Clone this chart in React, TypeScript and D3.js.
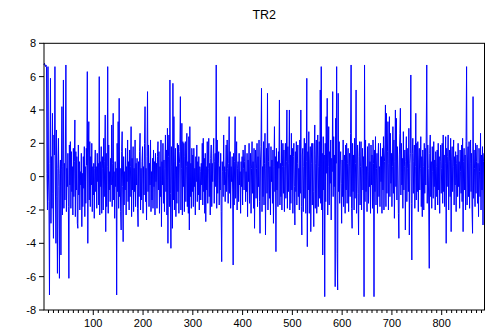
import React from "react";
import * as d3 from "d3";

const title = "TR2";
const yTicks = [-8, -6, -4, -2, 0, 2, 4, 6, 8];
const xMajorTicks = [100, 200, 300, 400, 500, 600, 700, 800];
const xDomain = [1, 886];
const yDomain = [-8, 8];

const tr2 = [
  6.7, 6.8, 6.7, 6.6, 6.7, 6.6, 0.2, -2.0, 6.6, 0.1,
  -1.5, -7.1, 0.8, 5.9, -2.8, 1.2, -1.9, 3.8, -1.0, -3.7,
  2.5, 1.3, 6.6, -0.8, -4.0, 2.8, -1.2, -5.8, 0.5, 2.3,
  -0.6, -6.1, 0.2, 1.0, -4.7, 0.4, 4.2, -2.3, 0.6, 5.8,
  -1.9, 0.8, -1.4, 1.6, 6.7, -2.1, 0.5, -0.6, 1.4, -1.8,
  -6.1, 1.9, -0.5, 2.1, -1.9, 1.5, -0.9, 0.6, -2.3, 1.7,
  -1.2, 0.9, 3.4, -2.4, 1.5, -0.8, 1.2, -2.8, -3.1, 1.9,
  -1.1, 0.9, -2.0, 0.3, -0.5, 1.4, -3.0, 0.2, -1.8, 1.2,
  -0.7, 1.8, -2.4, 0.6, -1.6, 1.7, 0.7, 6.3, -4.0, 1.3,
  3.3, -1.4, 2.1, -1.8, 1.2, -0.5, 2.0, -2.1, 0.6, -1.1,
  0.8, -2.5, 0.5, 1.6, -0.9, 0.6, -1.9, 1.4, -0.3, 0.8,
  -1.7, 6.0, -2.3, 0.9, -0.6, 1.8, -2.2, 0.5, 1.2, -2.0,
  2.3, -1.2, 0.9, 3.7, -3.3, 1.4, -1.8, 0.6, 6.6, -2.2,
  1.9, -0.8, 0.3, -1.5, 1.1, -0.5, 3.1, -1.8, 0.8, 3.8,
  -1.4, 0.3, -2.5, 0.9, -0.6, 0.5, -7.1, 2.0, -0.9, 3.3,
  -1.9, 4.7, -1.2, 0.5, -2.1, -3.2, 1.5, 2.7, -0.6, -3.9,
  1.2, -1.7, 0.3, -0.8, 1.7, -2.3, 0.6, -0.3, 2.2, -1.5,
  0.9, -2.0, 1.6, -1.2, 0.6, 3.0, -2.4, 1.1, -0.8, 1.8,
  -2.1, 0.5, -0.9, 2.2, -1.8, 0.8, -0.5, 1.1, -1.9, -3.0,
  0.9, -1.2, 1.5, 2.6, -2.0, 0.5, -1.4, 0.9, 1.8, -2.2,
  0.6, -1.1, 2.0, 4.2, -1.5, 0.5, -2.6, 1.2, 5.1, -0.9,
  1.9, -1.8, 0.8, -0.5, 2.2, -2.1, 0.3, -1.4, 1.1, -1.9,
  1.6, -0.6, 0.9, -2.3, 1.4, -0.3, 0.8, -1.9, 1.2, 2.1,
  -0.8, 1.5, -2.2, 0.6, -1.2, 2.2, -3.0, 0.9, -0.5, 2.0,
  -1.6, 1.0, -2.1, 0.5, 2.5, -0.9, 1.6, -2.3, 2.9, -4.0,
  1.2, 2.5, -1.8, 5.8, -1.0, -4.3, 1.8, 0.6, -3.1, 5.6,
  -1.4, 3.6, -2.0, 0.9, 1.7, -2.4, 0.6, -1.6, 2.0, -0.9,
  1.9, -2.2, 0.8, 1.5, 4.8, -2.0, 0.5, 3.2, -2.3, 2.1,
  -0.6, 2.0, -2.1, 1.2, 2.1, -1.5, 0.6, 2.6, -1.8, 0.9,
  -2.2, 2.4, -3.2, 3.0, -1.2, 0.8, -1.9, 1.7, -0.9, 1.3,
  -1.8, 1.7, -0.6, 0.5, -2.3, 1.2, -0.3, 1.9, -1.5, 0.9,
  -1.1, 1.2, -2.0, 0.6, 0.3, -1.4, 0.8, -0.5, 2.0, -1.7,
  2.3, -0.9, 1.1, -2.2, 1.4, -2.7, 0.6, -0.8, 2.1, -1.6,
  0.5, 2.3, -1.2, 0.8, -2.3, 1.1, 1.9, -1.8, 0.8, -0.3,
  1.4, 2.3, -1.6, 0.9, 1.4, -0.6, 6.7, -1.9, 2.2, -1.0,
  0.8, 1.5, -1.7, 0.6, -0.8, 1.4, -2.1, -5.1, 0.9, 0.3,
  -1.2, 2.5, -0.5, 0.6, -1.5, 0.3, 1.9, -0.9, 2.2, 0.5,
  -1.6, 0.8, 3.6, -1.0, 1.5, -1.9, 0.6, -0.3, 1.2, -0.8,
  -5.3, 1.4, -1.7, 0.9, 3.6, -1.3, 0.8, 2.1, -2.0, 0.5,
  0.9, -1.5, 1.4, -0.5, 0.3, -2.2, 0.9, -0.6, 1.2, -1.7,
  1.6, 0.5, -0.8, 0.9, 1.9, -1.5, 0.3, -0.9, 1.4, -2.4,
  1.0, -0.3, 2.0, -1.6, 0.6, 1.4, -2.2, 0.5, 2.1, -1.0,
  0.9, -1.9, 1.7, -3.1, 0.8, 1.6, -1.3, 0.5, 2.0, -1.8,
  1.2, -0.6, 2.2, -1.5, -3.4, 1.0, 1.8, 5.3, -2.1, 0.6,
  -1.2, 2.1, -1.7, 0.8, 2.6, -3.5, 0.5, 1.7, -1.0, 5.0,
  -2.0, 0.9, 2.0, -1.3, 0.6, -2.3, 1.8, -0.3, 1.0, -1.6,
  1.6, -2.8, 0.6, 3.0, -0.9, 1.2, -4.5, 1.7, -0.8, 0.9,
  -1.8, 1.5, 0.5, 4.6, -1.7, 0.8, -1.2, 2.2, -2.0, 0.6,
  2.0, -1.0, 1.6, -2.1, 0.6, 2.0, -1.3, 0.9, 4.0, -1.9,
  1.8, -0.9, 0.8, 4.0, -2.0, 1.3, -1.6, 2.6, -0.8, 1.7,
  -2.2, 1.2, 2.0, -0.6, -2.9, 1.5, -0.9, 2.1, -1.7, 0.8,
  1.9, -1.2, 0.5, -2.0, 2.2, -1.0, 4.0, -1.8, -3.5, 1.3,
  1.7, -2.1, 0.6, 2.3, -1.3, 2.0, -2.2, 0.9, 5.9, -4.2,
  1.5, -0.8, 2.7, -2.2, 1.0, 1.8, -3.3, 0.8, 2.0, -1.7,
  2.0, -0.9, -3.0, 1.3, 3.1, -1.9, 0.8, 2.2, -2.2, 1.0,
  2.5, -1.8, 0.6, 2.1, -1.3, 5.2, -1.6, 6.6, -2.0, 1.4,
  -4.7, 2.4, -0.8, 1.3, -7.2, 2.0, -1.5, 3.6, 0.2, 4.7,
  -2.3, 0.6, 3.0, -1.7, 1.5, -0.4, 2.2, -2.6, 1.1, 0.3,
  5.1, -1.2, 2.4, -0.6, 1.3, -6.6, 3.5, 0.8, 6.6, -4.6,
  -6.8, 5.0, -0.9, 2.1, -1.6, 0.7, 1.5, -0.4, -2.8, 1.0,
  -1.2, 2.2, -1.8, 0.9, 1.3, -2.2, 1.9, -0.8, 2.0, -1.6,
  0.8, 1.7, -2.1, 0.6, 1.4, -1.2, 2.6, 6.7, -1.9, -3.1,
  2.0, -0.9, 1.3, -2.0, 2.3, -1.3, 0.8, 5.2, -2.2, 1.0,
  1.9, -1.0, -3.5, 1.2, 2.1, -1.7, 0.6, 2.1, -2.0, 0.5,
  1.7, -0.8, 1.2, -7.2, 6.7, -1.5, 2.2, -0.9, 0.6, -2.1,
  1.8, 0.3, -1.6, 2.0, -0.6, 0.9, -2.2, 1.9, -0.5, 1.3,
  -1.9, 2.2, 0.8, -7.2, 1.6, -0.9, 2.4, -1.7, 0.5, 1.4,
  -2.2, 1.0, 2.0, -1.2, 0.6, -1.8, 2.0, -0.3, 1.2, -2.2,
  1.7, -0.8, 2.4, -2.0, 0.9, 1.9, 4.3, -1.8, 3.8, -1.0,
  1.5, 3.3, -2.0, 0.8, 3.6, -1.2, 2.6, -0.4, 1.4, -1.8,
  0.6, 3.0, -1.0, 2.2, -2.5, 0.9, 4.0, -0.6, 3.5, -1.4,
  1.8, 0.4, -2.2, -3.7, 1.3, 2.6, 4.1, -1.1, 2.0, -0.5,
  1.1, -1.9, 2.7, -0.8, 0.6, 1.6, -3.2, 0.9, 2.4, -1.5,
  0.5, 1.7, -0.9, 2.9, -3.5, 0.8, 1.4, 6.1, -1.6, -5.0,
  1.4, 2.3, -1.0, 0.9, 1.9, -1.9, 0.6, 3.8, -1.4, 2.0,
  -0.9, 2.1, -2.1, 1.0, 1.7, -0.8, 0.5, 2.4, -1.8, 1.2,
  -2.4, 1.6, 0.6, -2.0, 2.0, -1.0, 1.7, -0.5, 2.5, 6.7,
  -1.6, 1.9, 0.5, -2.0, -5.5, 1.4, 2.5, -1.2, 0.9, -1.9,
  1.8, 0.3, -1.3, 2.1, -0.6, 1.0, -2.0, 1.5, 0.6, -1.2,
  1.6, -1.7, 2.0, -0.8, 1.2, -2.2, 0.9, 1.9, -1.0, 0.5,
  2.0, -1.6, 2.5, -0.9, 1.3, -1.8, 0.8, 2.4, -4.0, 1.7,
  -0.6, 1.2, 2.5, -2.0, 0.9, 1.6, -1.2, 2.3, -3.3, 1.0,
  1.8, -0.9, 0.6, 2.2, -1.7, 1.2, -0.5, 1.5, -2.1, 0.8,
  1.3, -1.2, 2.0, -0.6, 0.9, -1.9, 1.6, 0.3, -1.0, 1.9,
  -1.5, 2.3, -3.3, 0.9, 1.7, -0.8, 1.3, -2.0, 2.1, 6.6,
  -1.7, 1.0, 1.8, -1.2, 2.1, -1.9, 0.8, 2.2, -0.9, 1.4,
  -2.0, -3.4, 4.8, -1.3, 1.6, 0.5, -1.8, 2.0, -1.0, 0.9,
  1.9, -1.6, 0.8, -2.4, 1.7, 0.3, -1.2, 2.6, -2.0, 1.3,
  -0.8, 1.8, -2.9, 0.9, 1.4, 0.3,
];

const W = 489;
const H = 336;
const left = 44;
const right = 484.5;
const top = 43.3;
const bottom = 310;

export default function App() {
  const x = d3.scaleLinear().domain(xDomain).range([left, right]);
  const y = d3.scaleLinear().domain(yDomain).range([bottom, top]);
  const line = d3
    .line<number>()
    .x((_, i) => x(i + 1))
    .y((d) => y(d));
  const minorTicks = d3.range(10, 890, 10).filter((t) => t % 100 !== 0);
  const font = "Arial, 'Liberation Sans', sans-serif";

  return (
    <svg
      width={W}
      height={H}
      style={{ position: "absolute", left: 0, top: 0, background: "#fff" }}
      fontFamily={font}
    >
      <rect x={0} y={0} width={W} height={H} fill="#fff" />
      <text x={(left + right) / 2} y={19} textAnchor="middle" fontSize={12.5} fill="#000">
        {title}
      </text>
      <path d={line(tr2) || ""} fill="none" stroke="#0000ff" strokeWidth={1} />
      <rect
        x={left}
        y={top}
        width={right - left}
        height={bottom - top}
        fill="none"
        stroke="#000"
        strokeWidth={1}
      />
      {yTicks.map((t) => (
        <g key={"y" + t}>
          <line x1={left - 5} x2={left} y1={y(t)} y2={y(t)} stroke="#000" />
          <text x={left - 8} y={y(t) + 4} textAnchor="end" fontSize={11} fill="#000">
            {t}
          </text>
        </g>
      ))}
      {minorTicks.map((t) => (
        <line key={"m" + t} x1={x(t)} x2={x(t)} y1={bottom} y2={bottom + 3} stroke="#000" />
      ))}
      {xMajorTicks.map((t) => (
        <g key={"x" + t}>
          <line x1={x(t)} x2={x(t)} y1={bottom} y2={bottom + 5} stroke="#000" />
          <text x={x(t)} y={bottom + 17} textAnchor="middle" fontSize={11} fill="#000">
            {t}
          </text>
        </g>
      ))}
    </svg>
  );
}
